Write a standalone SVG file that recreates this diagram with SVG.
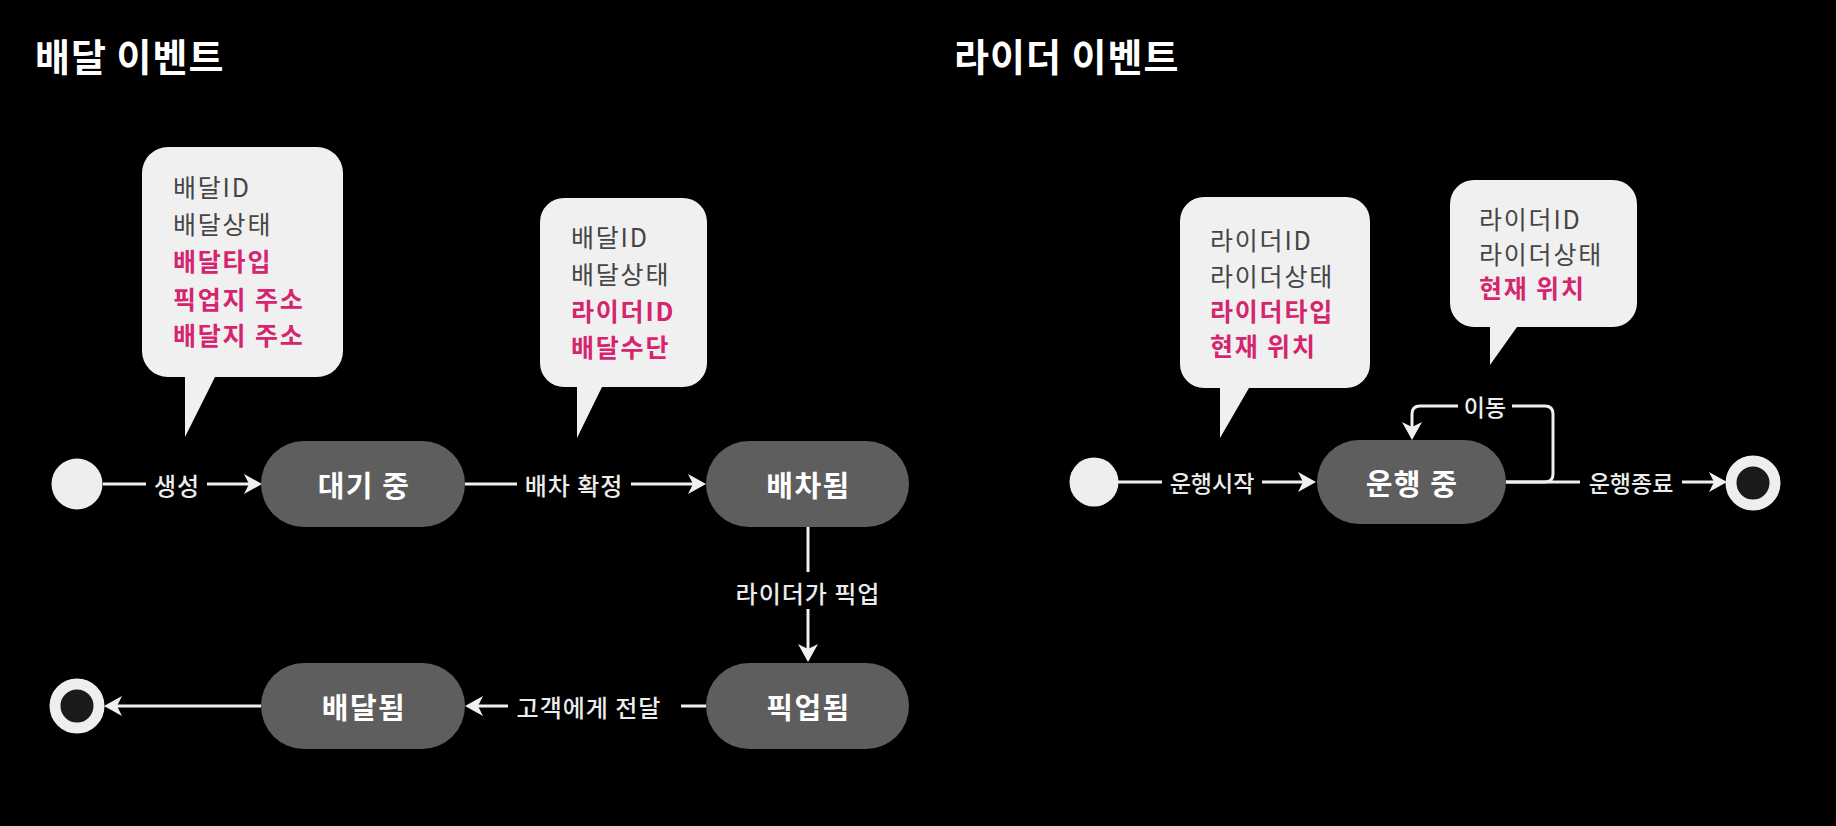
<svg xmlns="http://www.w3.org/2000/svg" width="1836" height="826" viewBox="0 0 1836 826">
<style>
text{font-family:"Noto Sans CJK KR","Noto Sans",sans-serif;dominant-baseline:central}
.title{font-size:38px;font-weight:700;fill:#ffffff;letter-spacing:1px}
.node rect{fill:#5e5e5e}
.node text{font-size:29px;font-weight:700;fill:#ffffff;text-anchor:middle;letter-spacing:1.5px}
.lbl{font-size:24px;font-weight:500;fill:#ececec;text-anchor:middle;letter-spacing:1px}
.lbl2{font-size:23px;font-weight:500;fill:#ececec;text-anchor:middle}
.edge{stroke:#f0f0f0;stroke-width:3;fill:none}
.arr{marker-end:url(#ah)}
.bubble path{fill:#f0f0f0}
.bubble text{font-size:25px;letter-spacing:1.8px}
.n{fill:#454545;font-weight:400}
.h{fill:#d6246e;font-weight:700}
.start{fill:#eeeeee}
.end{fill:#1a1a1a;stroke:#eeeeee;stroke-width:11}
</style>
<defs>
<marker id="ah" markerUnits="userSpaceOnUse" markerWidth="18" markerHeight="20" refX="12" refY="10" orient="auto">
<path d="M0,0 L18,10 L0,20 L5,10 Z" fill="#f0f0f0"/>
</marker>
</defs>
<rect width="1836" height="826" fill="#000000"/>
<text class="title" x="35" y="54">배달 이벤트</text>
<text class="title" x="954" y="54">라이더 이벤트</text>

<g id="connectors">
<line class="edge" x1="103" y1="484" x2="146" y2="484"/>
<line class="edge arr" x1="207" y1="484" x2="256" y2="484"/>
<line class="edge" x1="465" y1="484" x2="517" y2="484"/>
<line class="edge arr" x1="631" y1="484" x2="700" y2="484"/>
<line class="edge" x1="808" y1="527" x2="808" y2="572"/>
<line class="edge arr" x1="808" y1="609" x2="808" y2="656"/>
<line class="edge" x1="706" y1="706" x2="681" y2="706"/>
<line class="edge arr" x1="508" y1="706" x2="471" y2="706"/>
<line class="edge arr" x1="261" y1="706" x2="110" y2="706"/>
<line class="edge" x1="1118" y1="482" x2="1162" y2="482"/>
<line class="edge arr" x1="1262" y1="482" x2="1310" y2="482"/>
<line class="edge" x1="1506" y1="482" x2="1580" y2="482"/>
<line class="edge arr" x1="1682" y1="482" x2="1721" y2="482"/>
<path class="edge" d="M1506,482 H1545 Q1553,482 1553,474 V414 Q1553,406 1545,406 H1512"/>
<path class="edge arr" d="M1458,406 H1420 Q1412,406 1412,414 V434"/>
<text class="lbl" x="177" y="484">생성</text>
<text class="lbl" x="574" y="484">배차 확정</text>
<text class="lbl" x="808" y="592">라이더가 픽업</text>
<text class="lbl" x="589" y="706">고객에게 전달</text>
<text class="lbl2" x="1212" y="482">운행시작</text>
<text class="lbl2" x="1631" y="482">운행종료</text>
<text class="lbl2" x="1485" y="406">이동</text>
</g>

<g id="start1"><circle class="start" cx="77" cy="484" r="25.5"/></g>
<g id="n-waiting" class="node"><rect x="261" y="441" width="204" height="86" rx="43"/><text x="364" y="484">대기 중</text></g>
<g id="n-assigned" class="node"><rect x="706" y="441" width="203" height="86" rx="43"/><text x="808.5" y="484">배차됨</text></g>
<g id="n-picked" class="node"><rect x="706" y="663" width="203" height="86" rx="43"/><text x="808.5" y="706">픽업됨</text></g>
<g id="n-delivered" class="node"><rect x="261" y="663" width="204" height="86" rx="43"/><text x="364" y="706">배달됨</text></g>
<g id="end1"><circle class="end" cx="77" cy="706" r="22"/></g>

<g id="start2"><circle class="start" cx="1094" cy="482" r="24.5"/></g>
<g id="n-driving" class="node"><rect x="1317" y="440" width="189" height="84" rx="42"/><text x="1412" y="482">운행 중</text></g>
<g id="end2"><circle class="end" cx="1753" cy="483" r="22"/></g>

<g id="note1" class="bubble">
<path d="M168,147 H317 A26,26 0 0 1 343,173 V351 A26,26 0 0 1 317,377 H215 L185,437 V377 H168 A26,26 0 0 1 142,351 V173 A26,26 0 0 1 168,147 Z"/>
<text class="n" x="173" y="186">배달ID</text>
<text class="n" x="173" y="223">배달상태</text>
<text class="h" x="173" y="260">배달타입</text>
<text class="h" x="173" y="298">픽업지 주소</text>
<text class="h" x="173" y="334">배달지 주소</text>
</g>
<g id="note2" class="bubble">
<path d="M564,198 H683 A24,24 0 0 1 707,222 V363 A24,24 0 0 1 683,387 H602 L577,438 V387 H564 A24,24 0 0 1 540,363 V222 A24,24 0 0 1 564,198 Z"/>
<text class="n" x="571" y="236">배달ID</text>
<text class="n" x="571" y="273">배달상태</text>
<text class="h" x="571" y="310">라이더ID</text>
<text class="h" x="571" y="346">배달수단</text>
</g>
<g id="note3" class="bubble">
<path d="M1204,197 H1346 A24,24 0 0 1 1370,221 V364 A24,24 0 0 1 1346,388 H1249 L1220,438 V388 H1204 A24,24 0 0 1 1180,364 V221 A24,24 0 0 1 1204,197 Z"/>
<text class="n" x="1210" y="239">라이더ID</text>
<text class="n" x="1210" y="275">라이더상태</text>
<text class="h" x="1210" y="310">라이더타입</text>
<text class="h" x="1210" y="345">현재 위치</text>
</g>
<g id="note4" class="bubble">
<path d="M1474,180 H1613 A24,24 0 0 1 1637,204 V303 A24,24 0 0 1 1613,327 H1517 L1490,365 V327 H1474 A24,24 0 0 1 1450,303 V204 A24,24 0 0 1 1474,180 Z"/>
<text class="n" x="1479" y="218">라이더ID</text>
<text class="n" x="1479" y="253">라이더상태</text>
<text class="h" x="1479" y="287">현재 위치</text>
</g>
</svg>
